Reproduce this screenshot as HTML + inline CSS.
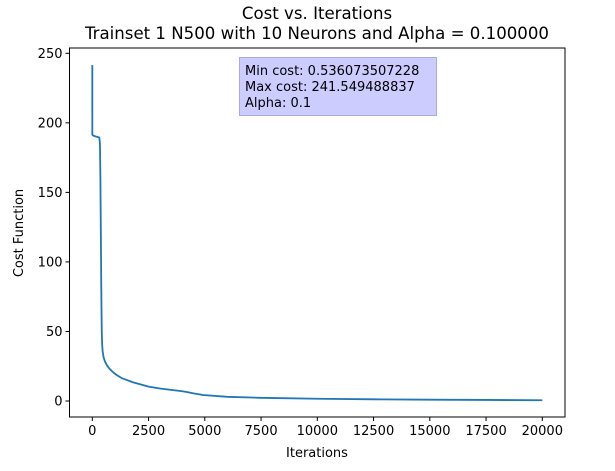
<!DOCTYPE html>
<html><head><meta charset="utf-8"><style>
body{margin:0;background:#fff;width:615px;height:466px;overflow:hidden}
svg text{font-family:"DejaVu Sans","Liberation Sans",sans-serif;fill:#000}
</style></head><body>
<svg id="chart" width="615" height="466">
<g id="g"></g>
</svg>
<script>
const iterations=[0,1,50,150,250,311,340,360,380,400,420,440,462,500,560,640,750,900,1084,1300,1800,2500,3000,3500,4000,4196,4500,4920,6000,7450,10000,12500,15000,17500,20000];
const costs=[241.5,191.4,190.8,190.2,189.8,189.4,185,160,120,80,50,40,35.5,31.5,28.5,26,23.5,21,18.7,16.5,13.5,10.3,9,8,7,6.5,5.5,4.3,3,2.3,1.6,1.2,0.95,0.75,0.54];
const xTicks=[0,2500,5000,7500,10000,12500,15000,17500,20000];
const yTicks=[0,50,100,150,200,250];
const L=69.5,R=565,T=48,B=417;
const xs=v=>92.3+v*(450/20000);
const ys=v=>401-v*(347.7/250);
const NS="http://www.w3.org/2000/svg";
const g=document.getElementById('g');
function mk(t,a,txt){const e=document.createElementNS(NS,t);for(const k in a)e.setAttribute(k,a[k]);if(txt!==undefined)e.textContent=txt;g.appendChild(e);return e;}
let d=iterations.map((x,i)=>(i?'L':'M')+xs(x).toFixed(2)+','+ys(costs[i]).toFixed(2)).join(' ');
const line=mk('path',{d:d,fill:'none',stroke:'#1f77b4','stroke-width':1.8,'stroke-linejoin':'round'});


const frame=mk('rect',{x:L,y:T,width:R-L,height:B-T,fill:'none',stroke:'#000','stroke-width':1});


xTicks.forEach(v=>{const x=xs(v);
 const tk=mk('line',{x1:x,x2:x,y1:B,y2:B+4,stroke:'#000'});
 
 
 const t=mk('text',{x:x,y:B+18,'text-anchor':'middle','font-size':13},String(v));
 
 });
yTicks.forEach(v=>{const y=ys(v);
 const tk=mk('line',{x1:L-4,x2:L,y1:y,y2:y,stroke:'#000'});
 
 
 const t=mk('text',{x:L-7,y:y+4.5,'text-anchor':'end','font-size':13},String(v));
 
 });
</script>
<svg width="615" height="466" style="position:absolute;left:0;top:0">
<text x="317" y="19" text-anchor="middle" font-size="16.6">Cost vs. Iterations</text>
<text x="317" y="39" text-anchor="middle" font-size="16.6">Trainset 1 N500 with 10 Neurons and Alpha = 0.100000</text>
<text x="317" y="457" text-anchor="middle" font-size="13">Iterations</text>
<text transform="translate(23,233) rotate(-90)" text-anchor="middle" font-size="13">Cost Function</text>
<g>
<rect x="239.5" y="57.5" width="197" height="58" fill="#ccccff" stroke="#aaaadd" stroke-width="1"/>
<text x="245" y="75" font-size="13">Min cost: 0.536073507228</text>
<text x="245" y="91" font-size="13">Max cost: 241.549488837</text>
<text x="245" y="107" font-size="13">Alpha: 0.1</text>
</g>
</svg>
</body></html>
